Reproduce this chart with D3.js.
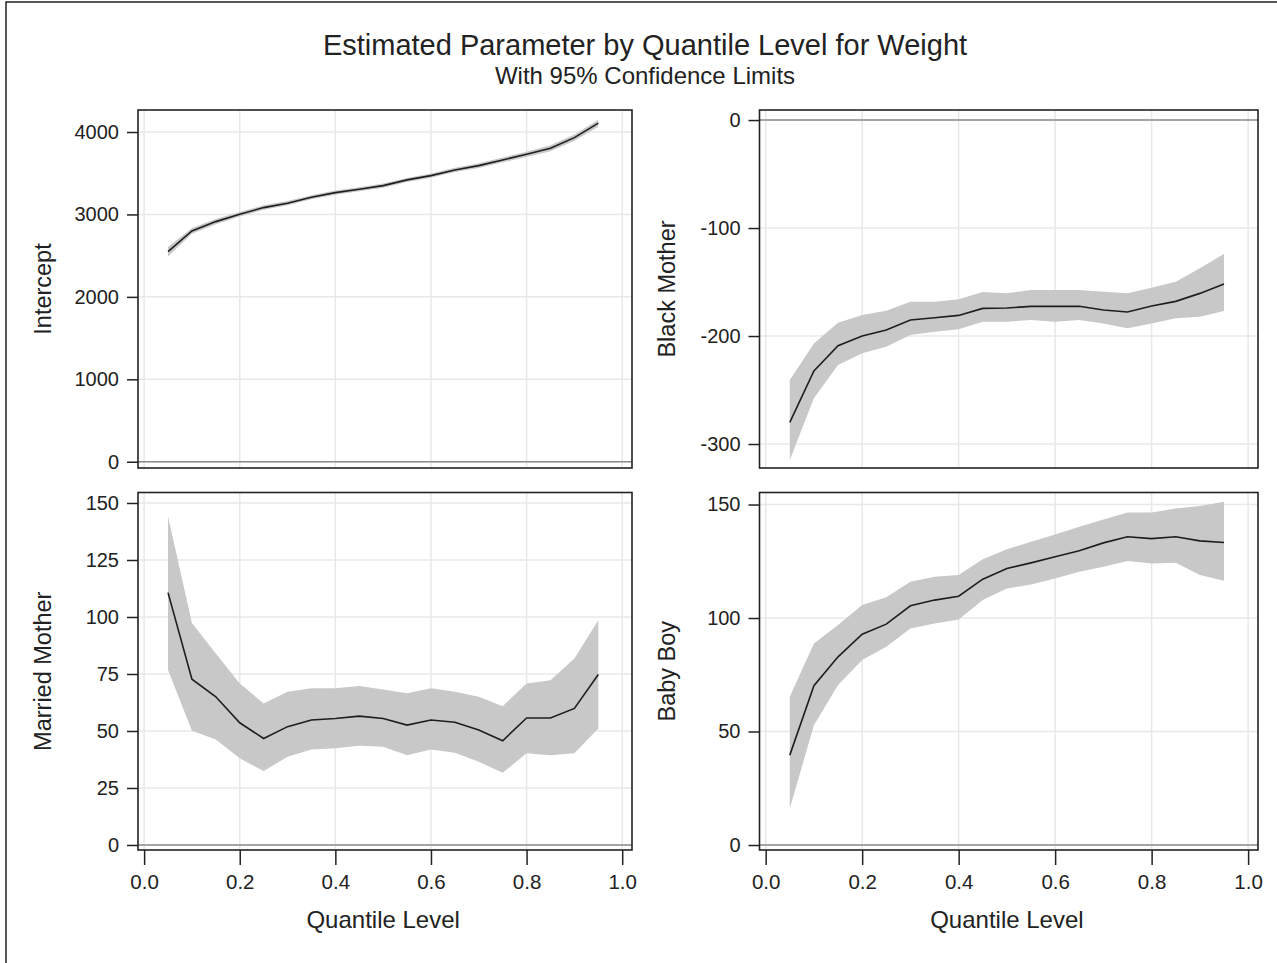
<!DOCTYPE html>
<html>
<head>
<meta charset="utf-8">
<script src="https://cdn.jsdelivr.net/npm/d3@7"></script>
<style>
  html, body { margin: 0; padding: 0; background: #fff; }
  svg { display: block; font-family: "Liberation Sans", Arial, sans-serif; }
</style>
</head>
<body>
<svg id="chart" width="1277" height="963"></svg>
<script>
// ---------------- data ----------------
const quantiles = [0.05, 0.10, 0.15, 0.20, 0.25, 0.30, 0.35, 0.40, 0.45, 0.50,
                   0.55, 0.60, 0.65, 0.70, 0.75, 0.80, 0.85, 0.90, 0.95];

const interceptEst   = [2549, 2800, 2913, 3002, 3083, 3136, 3208, 3265, 3306, 3350, 3419, 3471, 3540, 3592, 3661, 3730, 3803, 3932, 4107];
const interceptUpper = [2605, 2835, 2945, 3030, 3110, 3162, 3232, 3290, 3330, 3375, 3443, 3497, 3566, 3620, 3690, 3762, 3838, 3970, 4150];
const interceptLower = [2490, 2765, 2880, 2974, 3056, 3110, 3184, 3240, 3282, 3325, 3395, 3445, 3514, 3564, 3632, 3698, 3768, 3894, 4064];

const blackEst   = [-279.9, -232.4, -209.0, -200.0, -194.4, -185.2, -183.0, -180.9, -174.4, -174.0, -172.5, -172.5, -172.5, -175.9, -177.8, -172.2, -167.9, -160.5, -151.9];
const blackUpper = [-240.7, -206.8, -187.7, -180.6, -176.5, -168.2, -168.2, -166.0, -159.3, -160.5, -157.4, -157.4, -157.4, -158.9, -160.5, -155.2, -149.7, -137.3, -124.0];
const blackLower = [-314.8, -257.7, -226.9, -216.0, -209.9, -199.0, -196.0, -193.8, -186.7, -186.7, -185.2, -186.7, -185.2, -188.3, -192.9, -188.3, -183.6, -182.1, -176.9];

const marriedEst   = [110.7, 72.7, 65.0, 53.6, 46.7, 51.9, 54.8, 55.5, 56.5, 55.5, 52.6, 54.8, 53.8, 50.4, 45.7, 55.7, 55.7, 59.9, 74.8];
const marriedUpper = [144.2, 97.4, 84.0, 70.8, 62.1, 67.2, 68.7, 68.7, 69.7, 68.2, 66.5, 68.7, 67.2, 65.0, 60.9, 70.8, 72.3, 81.8, 98.6];
const marriedLower = [76.7, 50.1, 46.3, 38.0, 32.4, 38.7, 41.9, 42.4, 43.5, 43.1, 39.4, 41.9, 40.5, 36.5, 31.7, 40.2, 39.4, 40.2, 51.1];

const boyEst   = [39.6, 70.2, 82.9, 92.9, 97.3, 105.4, 107.9, 109.6, 117.1, 121.8, 124.3, 127.0, 129.6, 133.1, 135.8, 135.0, 135.8, 134.0, 133.3];
const boyUpper = [65.3, 88.8, 96.9, 105.7, 109.1, 116.0, 118.2, 118.9, 125.9, 130.3, 133.6, 136.8, 140.2, 143.4, 146.5, 146.5, 148.2, 149.3, 151.2];
const boyLower = [16.1, 52.8, 70.5, 81.5, 87.3, 95.4, 97.6, 99.4, 107.9, 113.0, 114.8, 117.4, 120.4, 122.6, 125.1, 124.0, 124.3, 118.9, 116.4];

const xTicks = [0, 0.2, 0.4, 0.6, 0.8, 1.0];
const xTickLabels = ["0.0", "0.2", "0.4", "0.6", "0.8", "1.0"];
const interceptTicks = [0, 1000, 2000, 3000, 4000];
const blackTicks = [-300, -200, -100, 0];
const marriedTicks = [0, 25, 50, 75, 100, 125, 150];
const boyTicks = [0, 50, 100, 150];

const titleText = "Estimated Parameter by Quantile Level for Weight";
const subtitleText = "With 95% Confidence Limits";
const xAxisLabel = "Quantile Level";

// ---------------- layout ----------------
const panels = [
  { label: "Intercept", est: interceptEst, lo: interceptLower, hi: interceptUpper,
    yDomain: [-76, 4267], ticks: interceptTicks, box: [138, 632, 110, 468], xAxis: false, labelX: 43 },
  { label: "Black Mother", est: blackEst, lo: blackLower, hi: blackUpper,
    yDomain: [-322.2, 9.3], ticks: blackTicks, box: [759.5, 1258, 110, 468], xAxis: false, labelX: 667 },
  { label: "Married Mother", est: marriedEst, lo: marriedLower, hi: marriedUpper,
    yDomain: [-2.2, 154.6], ticks: marriedTicks, box: [138, 632, 492.5, 850], xAxis: true, labelX: 43 },
  { label: "Baby Boy", est: boyEst, lo: boyLower, hi: boyUpper,
    yDomain: [-2.2, 155.3], ticks: boyTicks, box: [759.5, 1258, 492.5, 850], xAxis: true, labelX: 667 }
];
const xDomain = [-0.0128, 1.0205];
const FONT = "'Liberation Sans', Arial, sans-serif";
const TXT = "#222";

const svg = d3.select("#chart");
svg.append("rect").attr("x", 0).attr("y", 0).attr("width", 1277).attr("height", 963).attr("fill", "#fff");
// outer border (left/top visible)
svg.append("rect").attr("x", 6).attr("y", 2).attr("width", 1300).attr("height", 1000)
  .attr("fill", "none").attr("stroke", "#222").attr("stroke-width", 1.5);

svg.append("text").attr("x", 645).attr("y", 55).attr("text-anchor", "middle")
  .attr("font-size", 29).attr("fill", TXT).text(titleText);
svg.append("text").attr("x", 645).attr("y", 84).attr("text-anchor", "middle")
  .attr("font-size", 24).attr("fill", TXT).text(subtitleText);

panels.forEach(p => {
  const [x0, x1, y0, y1] = p.box;
  const x = d3.scaleLinear().domain(xDomain).range([x0, x1]);
  const y = d3.scaleLinear().domain(p.yDomain).range([y1, y0]);
  const g = svg.append("g");

  // grid
  g.selectAll(".vg").data(xTicks).join("line")
    .attr("x1", d => x(d)).attr("x2", d => x(d)).attr("y1", y0).attr("y2", y1)
    .attr("stroke", "#e8e8e8").attr("stroke-width", 1.5);
  g.selectAll(".hg").data(p.ticks).join("line")
    .attr("x1", x0).attr("x2", x1).attr("y1", d => y(d)).attr("y2", d => y(d))
    .attr("stroke", "#e8e8e8").attr("stroke-width", 1.5);

  const rows = quantiles.map((q, i) => ({ q, est: p.est[i], lo: p.lo[i], hi: p.hi[i] }));

  // band
  g.append("path").datum(rows)
    .attr("d", d3.area().x(d => x(d.q)).y0(d => y(d.lo)).y1(d => y(d.hi)))
    .attr("fill", "#c8c8c8");

  // zero reference line
  g.append("line").attr("x1", x0).attr("x2", x1).attr("y1", y(0)).attr("y2", y(0))
    .attr("stroke", "#8c8c8c").attr("stroke-width", 1.5);

  // estimate line
  g.append("path").datum(rows)
    .attr("d", d3.line().x(d => x(d.q)).y(d => y(d.est)))
    .attr("fill", "none").attr("stroke", "#1e1e1e").attr("stroke-width", 1.6);

  // y axis
  const ya = g.append("g").attr("transform", `translate(${x0},0)`)
    .call(d3.axisLeft(y).tickValues(p.ticks).tickSize(11).tickPadding(8).tickFormat(d => String(d)));
  ya.select(".domain").remove();
  ya.selectAll(".tick line").attr("stroke", "#222").attr("stroke-width", 1.5);
  ya.selectAll(".tick text").attr("font-size", 20).attr("fill", TXT).attr("font-family", FONT);

  if (p.xAxis) {
    const xa = g.append("g").attr("transform", `translate(0,${y1})`)
      .call(d3.axisBottom(x).tickValues(xTicks).tickSize(15).tickPadding(9)
        .tickFormat((d, i) => xTickLabels[i]));
    xa.select(".domain").remove();
    xa.selectAll(".tick line").attr("stroke", "#222").attr("stroke-width", 1.5);
    xa.selectAll(".tick text").attr("font-size", 20.5).attr("fill", TXT).attr("font-family", FONT);
    svg.append("text").attr("x", (x(0) + x(1)) / 2).attr("y", 928).attr("text-anchor", "middle")
      .attr("font-size", 24).attr("fill", TXT).text(xAxisLabel);
  }

  // frame
  g.append("rect").attr("x", x0).attr("y", y0).attr("width", x1 - x0).attr("height", y1 - y0)
    .attr("fill", "none").attr("stroke", "#222").attr("stroke-width", 1.6);

  // y label
  const cy = (y0 + y1) / 2;
  svg.append("text").attr("transform", `translate(${p.labelX},${cy}) rotate(-90)`)
    .attr("text-anchor", "middle").attr("dominant-baseline", "central")
    .attr("font-size", 23.5).attr("fill", TXT).text(p.label);
});
</script>
</body>
</html>
